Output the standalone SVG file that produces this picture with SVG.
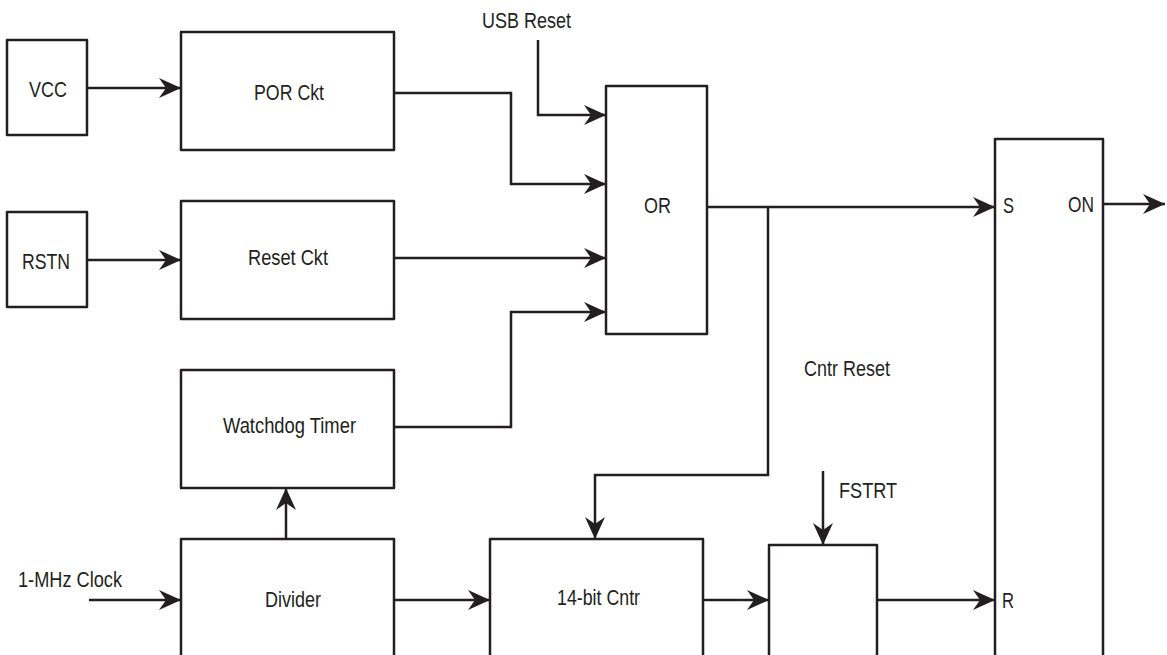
<svg xmlns="http://www.w3.org/2000/svg" width="1167" height="655" viewBox="0 0 1167 655">
<defs>
<style>
.box{fill:#fff;stroke:#231f20;stroke-width:2.5;stroke-linejoin:round}
.wire{fill:none;stroke:#231f20;stroke-width:2.5}
.arr{marker-end:url(#ah)}
text{font-family:"Liberation Sans",Arial,sans-serif;font-size:22px;fill:#231f20}
</style>
<marker id="ah" markerUnits="userSpaceOnUse" viewBox="0 0 22 20" refX="22" refY="10" markerWidth="22" markerHeight="20" orient="auto">
<path d="M0,0 L22,10 L0,20 L7,10 Z" fill="#231f20"/>
</marker>
</defs>
<rect width="1167" height="655" fill="#fff"/>
<g id="connectors">
<path class="wire arr" d="M87,88 H181"/>
<path class="wire arr" d="M87,260 H181"/>
<path class="wire arr" d="M394,93 H511 V184 H606"/>
<path class="wire arr" d="M538,40 V115 H606"/>
<path class="wire arr" d="M394,258 H606"/>
<path class="wire arr" d="M394,427 H511 V312 H606"/>
<path class="wire arr" d="M707,207 H995"/>
<path class="wire arr" d="M768,207 V475 H595 V539"/>
<path class="wire arr" d="M286,539 V488"/>
<path class="wire arr" d="M89,600 H181"/>
<path class="wire arr" d="M394,600 H490"/>
<path class="wire arr" d="M703,600 H769"/>
<path class="wire arr" d="M877,600 H995"/>
<path class="wire arr" d="M823,471 V545"/>
<path class="wire arr" d="M1103,204 H1165"/>
</g>
<g id="vcc"><rect class="box" x="7" y="40" width="80" height="95"/><text x="29" y="97" textLength="38" lengthAdjust="spacingAndGlyphs">VCC</text></g>
<g id="rstn"><rect class="box" x="7" y="212" width="80" height="95"/><text x="22" y="269" textLength="48" lengthAdjust="spacingAndGlyphs">RSTN</text></g>
<g id="por"><rect class="box" x="181" y="32" width="213" height="118"/><text x="254" y="100" textLength="70" lengthAdjust="spacingAndGlyphs">POR Ckt</text></g>
<g id="reset"><rect class="box" x="181" y="201" width="213" height="118"/><text x="248" y="265" textLength="80" lengthAdjust="spacingAndGlyphs">Reset Ckt</text></g>
<g id="watchdog"><rect class="box" x="181" y="370" width="213" height="118"/><text x="223" y="433" textLength="133" lengthAdjust="spacingAndGlyphs">Watchdog Timer</text></g>
<g id="divider"><rect class="box" x="181" y="539" width="213" height="130"/><text x="265" y="607" textLength="56" lengthAdjust="spacingAndGlyphs">Divider</text></g>
<g id="or"><rect class="box" x="606" y="86" width="101" height="248"/><text x="644" y="213" textLength="27" lengthAdjust="spacingAndGlyphs">OR</text></g>
<g id="cntr14"><rect class="box" x="490" y="539" width="213" height="130"/><text x="557" y="605" textLength="83" lengthAdjust="spacingAndGlyphs">14-bit Cntr</text></g>
<g id="fstrtbox"><rect class="box" x="769" y="545" width="108" height="124"/></g>
<g id="sr"><rect class="box" x="995" y="139" width="108" height="530"/><text x="1003" y="213" textLength="11" lengthAdjust="spacingAndGlyphs">S</text><text x="1002" y="608" textLength="12" lengthAdjust="spacingAndGlyphs">R</text><text x="1068" y="212" textLength="26" lengthAdjust="spacingAndGlyphs">ON</text></g>
<g id="labels">
<text x="482" y="28" textLength="89" lengthAdjust="spacingAndGlyphs">USB Reset</text>
<text x="804" y="376" textLength="86" lengthAdjust="spacingAndGlyphs">Cntr Reset</text>
<text x="839" y="498" textLength="58" lengthAdjust="spacingAndGlyphs">FSTRT</text>
<text x="18" y="587" textLength="104" lengthAdjust="spacingAndGlyphs">1-MHz Clock</text>
</g>
</svg>
